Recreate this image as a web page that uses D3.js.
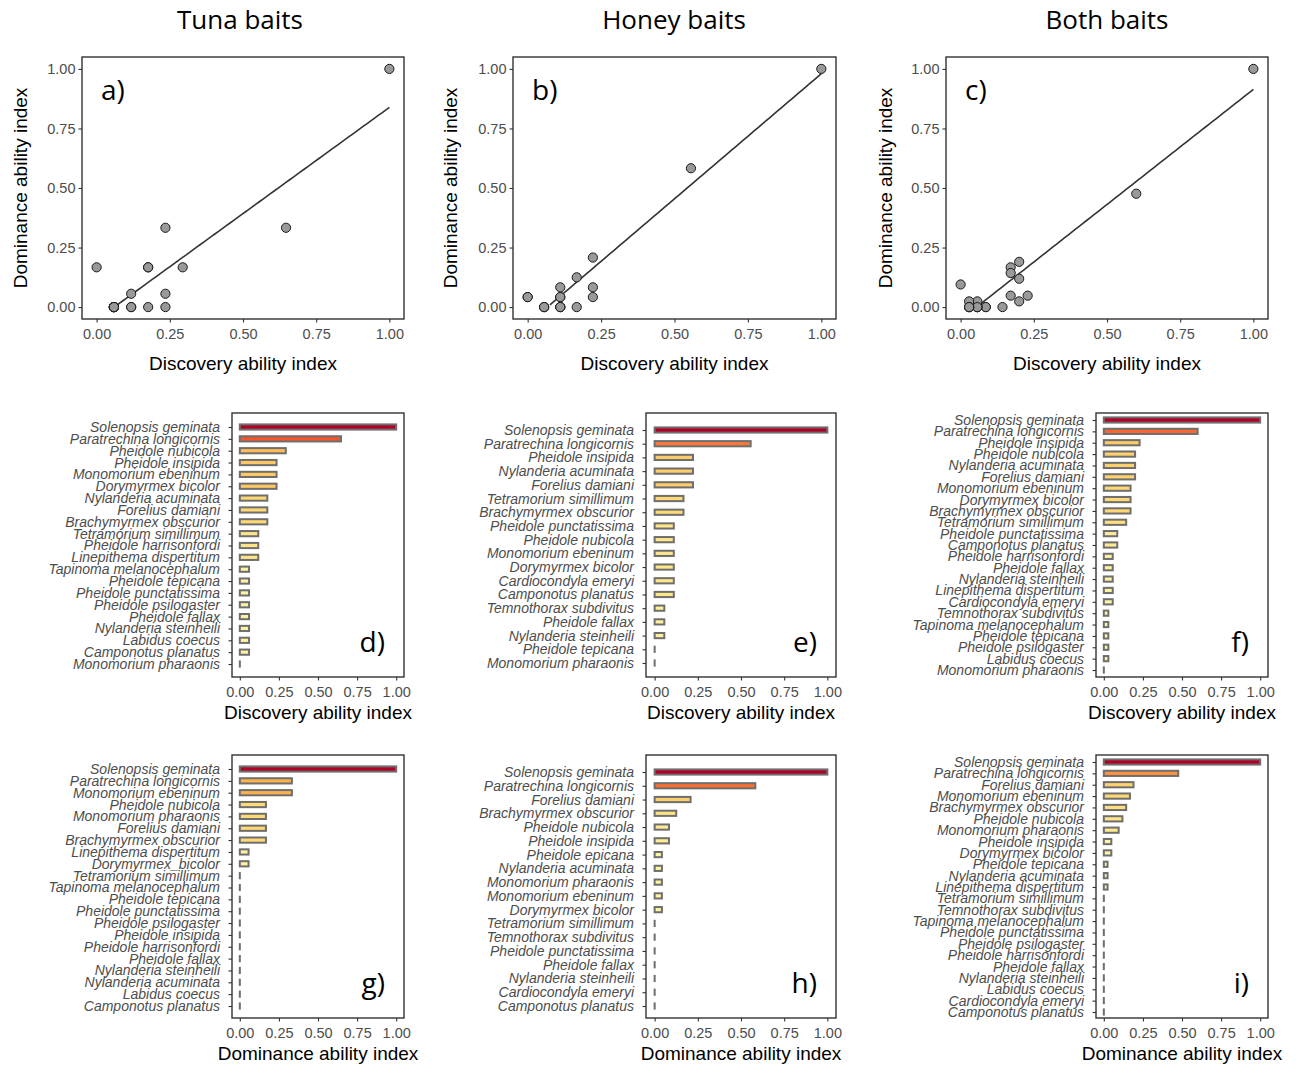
<!DOCTYPE html>
<html>
<head>
<meta charset="utf-8">
<script src="https://cdn.jsdelivr.net/npm/d3@7"></script>
<style>
  body { margin: 0; background: #fff; }
</style>
</head>
<body>
<svg id="chart" width="1299" height="1065"></svg>
<script>
// ---- data: species ranked by index, per bait type ----
const tunaDiscSpecies = ["Solenopsis geminata", "Paratrechina longicornis", "Pheidole nubicola", "Pheidole insipida",
  "Monomorium ebeninum", "Dorymyrmex bicolor", "Nylanderia acuminata", "Forelius damiani", "Brachymyrmex obscurior",
  "Tetramorium simillimum", "Pheidole harrisonfordi", "Linepithema dispertitum", "Tapinoma melanocephalum",
  "Pheidole tepicana", "Pheidole punctatissima", "Pheidole psilogaster", "Pheidole fallax", "Nylanderia steinheili",
  "Labidus coecus", "Camponotus planatus", "Monomorium pharaonis"];
const tunaDisc = [1, 0.647, 0.294, 0.235, 0.235, 0.235, 0.176, 0.176, 0.176, 0.118, 0.118, 0.118,
  0.059, 0.059, 0.059, 0.059, 0.059, 0.059, 0.059, 0.059, 0];

const tunaDomSpecies = ["Solenopsis geminata", "Paratrechina longicornis", "Monomorium ebeninum", "Pheidole nubicola",
  "Monomorium pharaonis", "Forelius damiani", "Brachymyrmex obscurior", "Linepithema dispertitum", "Dorymyrmex_bicolor",
  "Tetramorium simillimum", "Tapinoma melanocephalum", "Pheidole tepicana", "Pheidole punctatissima",
  "Pheidole psilogaster", "Pheidole insipida", "Pheidole harrisonfordi", "Pheidole fallax", "Nylanderia steinheili",
  "Nylanderia acuminata", "Labidus coecus", "Camponotus planatus"];
const tunaDom = [1, 0.333, 0.333, 0.167, 0.167, 0.167, 0.167, 0.056, 0.056,
  0, 0, 0, 0, 0, 0, 0, 0, 0, 0, 0, 0];

const honeyDiscSpecies = ["Solenopsis geminata", "Paratrechina longicornis", "Pheidole insipida", "Nylanderia acuminata",
  "Forelius damiani", "Tetramorium simillimum", "Brachymyrmex obscurior", "Pheidole punctatissima", "Pheidole nubicola",
  "Monomorium ebeninum", "Dorymyrmex bicolor", "Cardiocondyla emeryi", "Camponotus planatus", "Temnothorax subdivitus",
  "Pheidole fallax", "Nylanderia steinheili", "Pheidole tepicana", "Monomorium pharaonis"];
const honeyDisc = [1, 0.556, 0.222, 0.222, 0.222, 0.167, 0.167, 0.111, 0.111, 0.111, 0.111, 0.111, 0.111,
  0.056, 0.056, 0.056, 0, 0];

const honeyDomSpecies = ["Solenopsis geminata", "Paratrechina longicornis", "Forelius damiani", "Brachymyrmex obscurior",
  "Pheidole nubicola", "Pheidole insipida", "Pheidole epicana", "Nylanderia acuminata", "Monomorium pharaonis",
  "Monomorium ebeninum", "Dorymyrmex bicolor", "Tetramorium simillimum", "Temnothorax subdivitus",
  "Pheidole punctatissima", "Pheidole fallax", "Nylanderia steinheili", "Cardiocondyla emeryi", "Camponotus planatus"];
const honeyDom = [1, 0.583, 0.208, 0.125, 0.083, 0.083, 0.042, 0.042, 0.042, 0.042, 0.042,
  0, 0, 0, 0, 0, 0, 0];

const bothDiscSpecies = ["Solenopsis geminata", "Paratrechina longicornis", "Pheidole insipida", "Pheidole nubicola",
  "Nylanderia acuminata", "Forelius damiani", "Monomorium ebeninum", "Dorymyrmex bicolor", "Brachymyrmex obscurior",
  "Tetramorium simillimum", "Pheidole punctatissima", "Camponotus planatus", "Pheidole harrisonfordi", "Pheidole fallax",
  "Nylanderia steinheili", "Linepithema dispertitum", "Cardiocondyla emeryi", "Temnothorax subdivitus",
  "Tapinoma melanocephalum", "Pheidole tepicana", "Pheidole psilogaster", "Labidus coecus", "Monomorium pharaonis"];
const bothDisc = [1, 0.6, 0.229, 0.2, 0.2, 0.2, 0.171, 0.171, 0.171, 0.143, 0.086, 0.086,
  0.057, 0.057, 0.057, 0.057, 0.057, 0.029, 0.029, 0.029, 0.029, 0.029, 0];

const bothDomSpecies = ["Solenopsis geminata", "Paratrechina longicornis", "Forelius damiani", "Monomorium ebeninum",
  "Brachymyrmex obscurior", "Pheidole nubicola", "Monomorium pharaonis", "Pheidole insipida", "Dorymyrmex bicolor",
  "Pheidole tepicana", "Nylanderia acuminata", "Linepithema dispertitum", "Tetramorium simillimum",
  "Temnothorax subdivitus", "Tapinoma melanocephalum", "Pheidole punctatissima", "Pheidole psilogaster",
  "Pheidole harrisonfordi", "Pheidole fallax", "Nylanderia steinheili", "Labidus coecus", "Cardiocondyla emeryi",
  "Camponotus planatus"];
const bothDom = [1, 0.476, 0.190, 0.167, 0.143, 0.119, 0.095, 0.048, 0.048, 0.024, 0.024, 0.024,
  0, 0, 0, 0, 0, 0, 0, 0, 0, 0, 0];

const baitTitles = ["Tuna baits", "Honey baits", "Both baits"];
const panelLetters = [["a)", "d)", "g)"], ["b)", "e)", "h)"], ["c)", "f)", "i)"]];
const xTicks = [0, 0.25, 0.5, 0.75, 1];
const yTicks = [0, 0.25, 0.5, 0.75, 1];
const paletteColors = ["#ffffb2", "#fed976", "#feb24c", "#fd8d3c", "#fc4e2a", "#e31a1c", "#b10026"];
// label typo in source ("epicana") refers to the same species
const aliases = { "Pheidole epicana": "Pheidole tepicana" };

// ---- layout ----
const AXIS_FONT = "'Liberation Sans', Arial, sans-serif";
const TAG_FONT = "'Open Sans', 'DejaVu Sans', sans-serif";
const TEXT_GREY = "#4d4d4d";
const LINE = "#333333";

const columns = [
  { titleX: 240, sx: [82, 404], yTitleX: 20, bx: [232, 404], discRange: [427, 664], domRange: [769, 1006] },
  { titleX: 674, sx: [513, 836], yTitleX: 450, bx: [646, 836], discRange: [430, 663], domRange: [772, 1006] },
  { titleX: 1107, sx: [946, 1268], yTitleX: 885, bx: [1096, 1268], discRange: [420, 670], domRange: [762, 1012] }
];
const scatterY = [57, 319];
const discRowY = [413, 677];
const domRowY = [755, 1018];

const baitData = [
  { disc: [tunaDiscSpecies, tunaDisc], dom: [tunaDomSpecies, tunaDom] },
  { disc: [honeyDiscSpecies, honeyDisc], dom: [honeyDomSpecies, honeyDom] },
  { disc: [bothDiscSpecies, bothDisc], dom: [bothDomSpecies, bothDom] }
];

const fillScale = d3.scaleLinear()
  .domain(paletteColors.map((c, i) => i / (paletteColors.length - 1)))
  .range(paletteColors);

const svg = d3.select("#chart");
const fmt = d3.format(".2f");
const key = n => { const s = n.replace(/_/g, " "); return aliases[s] || s; };

function styleAxis(g, size) {
  g.select(".domain").remove();
  g.selectAll(".tick line").attr("stroke", LINE).attr("stroke-width", 1.1);
  g.selectAll(".tick text")
    .attr("fill", TEXT_GREY)
    .style("font-family", AXIS_FONT)
    .style("font-size", size + "px");
}

function frame(x0, x1, y0, y1) {
  svg.append("rect")
    .attr("x", x0).attr("y", y0)
    .attr("width", x1 - x0).attr("height", y1 - y0)
    .attr("fill", "none").attr("stroke", LINE).attr("stroke-width", 1.4);
}

function axisTitle(text, x, y, rotate) {
  svg.append("text")
    .attr("transform", `translate(${x},${y})` + (rotate ? " rotate(-90)" : ""))
    .attr("text-anchor", "middle")
    .attr("dy", "0.35em")
    .style("font-family", AXIS_FONT)
    .style("font-size", "19px")
    .attr("fill", "#000")
    .text(text);
}

function tag(text, x, y, anchor) {
  svg.append("text")
    .attr("x", x).attr("y", y)
    .attr("text-anchor", anchor)
    .style("font-family", TAG_FONT)
    .style("font-size", "28px")
    .attr("fill", "#000")
    .text(text);
}

function drawScatter(col, data, letter) {
  const x = d3.scaleLinear().domain([-0.05, 1.05]).range(col.sx);
  const y = d3.scaleLinear().domain([-0.05, 1.05]).range([scatterY[1], scatterY[0]]);
  const domByName = new Map(data.dom[0].map((n, i) => [key(n), data.dom[1][i]]));
  const pts = data.disc[0].map((n, i) => ({ x: data.disc[1][i], y: domByName.get(key(n)) }));

  // least-squares fit, evaluated over the data range and kept inside y limits
  const mx = d3.mean(pts, d => d.x), my = d3.mean(pts, d => d.y);
  const slope = d3.sum(pts, d => (d.x - mx) * (d.y - my)) / d3.sum(pts, d => (d.x - mx) ** 2);
  const icpt = my - slope * mx;
  const [lo, hi] = d3.extent(pts, d => d.x);
  const fit = d3.range(80).map(i => lo + (hi - lo) * i / 79)
    .map(v => ({ x: v, y: icpt + slope * v }))
    .filter(d => d.y >= 0 && d.y <= 1);

  svg.append("g").attr("transform", `translate(0,${scatterY[1]})`)
    .call(d3.axisBottom(x).tickValues(xTicks).tickFormat(fmt).tickSize(3.5).tickPadding(6))
    .call(g => styleAxis(g, 14.5));
  svg.append("g").attr("transform", `translate(${col.sx[0]},0)`)
    .call(d3.axisLeft(y).tickValues(yTicks).tickFormat(fmt).tickSize(3.5).tickPadding(3))
    .call(g => styleAxis(g, 14.5));

  svg.append("path")
    .datum(fit)
    .attr("fill", "none")
    .attr("stroke", "#333")
    .attr("stroke-width", 1.6)
    .attr("d", d3.line().x(d => x(d.x)).y(d => y(d.y)));

  svg.append("g").selectAll("circle")
    .data(pts)
    .join("circle")
      .attr("cx", d => x(d.x))
      .attr("cy", d => y(d.y))
      .attr("r", 4.6)
      .attr("fill", "#999999")
      .attr("stroke", "#1a1a1a")
      .attr("stroke-width", 1);

  frame(col.sx[0], col.sx[1], scatterY[0], scatterY[1]);
  axisTitle("Discovery ability index", (col.sx[0] + col.sx[1]) / 2, 363, false);
  axisTitle("Dominance ability index", col.yTitleX, (scatterY[0] + scatterY[1]) / 2, true);
  tag(letter, col.sx[0] + 19, scatterY[0] + 43, "start");
}

function drawBars(col, names, values, rowY, catRange, title, letter) {
  const x = d3.scaleLinear().domain([-0.05, 1.05]).range(col.bx);
  const y = d3.scalePoint().domain(names).range(catRange);
  const rows = names.map((n, i) => ({ name: n, value: values[i] }));

  svg.append("g").attr("transform", `translate(0,${rowY[1]})`)
    .call(d3.axisBottom(x).tickValues(xTicks).tickFormat(fmt).tickSize(3.5).tickPadding(6.5))
    .call(g => styleAxis(g, 14.5));
  svg.append("g").attr("transform", `translate(${col.bx[0]},0)`)
    .call(d3.axisLeft(y).tickSize(3.5).tickPadding(8.5))
    .call(g => styleAxis(g, 14))
    .call(g => g.selectAll(".tick text").style("font-style", "italic"));

  // zero-length bars still show their outline as a short vertical stroke
  svg.append("g").selectAll("rect")
    .data(rows)
    .join("rect")
      .attr("x", x(0))
      .attr("y", d => y(d.name) - 2.6)
      .attr("width", d => Math.max(x(d.value) - x(0), 0.01))
      .attr("height", 5.2)
      .attr("fill", d => fillScale(d.value))
      .attr("stroke", "#6e6e6e")
      .attr("stroke-width", 2);

  frame(col.bx[0], col.bx[1], rowY[0], rowY[1]);
  axisTitle(title, (col.bx[0] + col.bx[1]) / 2, rowY[1] + 35, false);
  tag(letter, col.bx[1] - 19, rowY[1] - 25, "end");
}

columns.forEach((col, i) => {
  svg.append("text")
    .attr("x", col.titleX).attr("y", 20)
    .attr("dy", "0.35em")
    .attr("text-anchor", "middle")
    .style("font-family", TAG_FONT)
    .style("font-size", "26px")
    .attr("fill", "#000")
    .text(baitTitles[i]);

  const data = baitData[i];
  drawScatter(col, data, panelLetters[i][0]);
  drawBars(col, data.disc[0], data.disc[1], discRowY, col.discRange, "Discovery ability index", panelLetters[i][1]);
  drawBars(col, data.dom[0], data.dom[1], domRowY, col.domRange, "Dominance ability index", panelLetters[i][2]);
});
</script>
</body>
</html>
